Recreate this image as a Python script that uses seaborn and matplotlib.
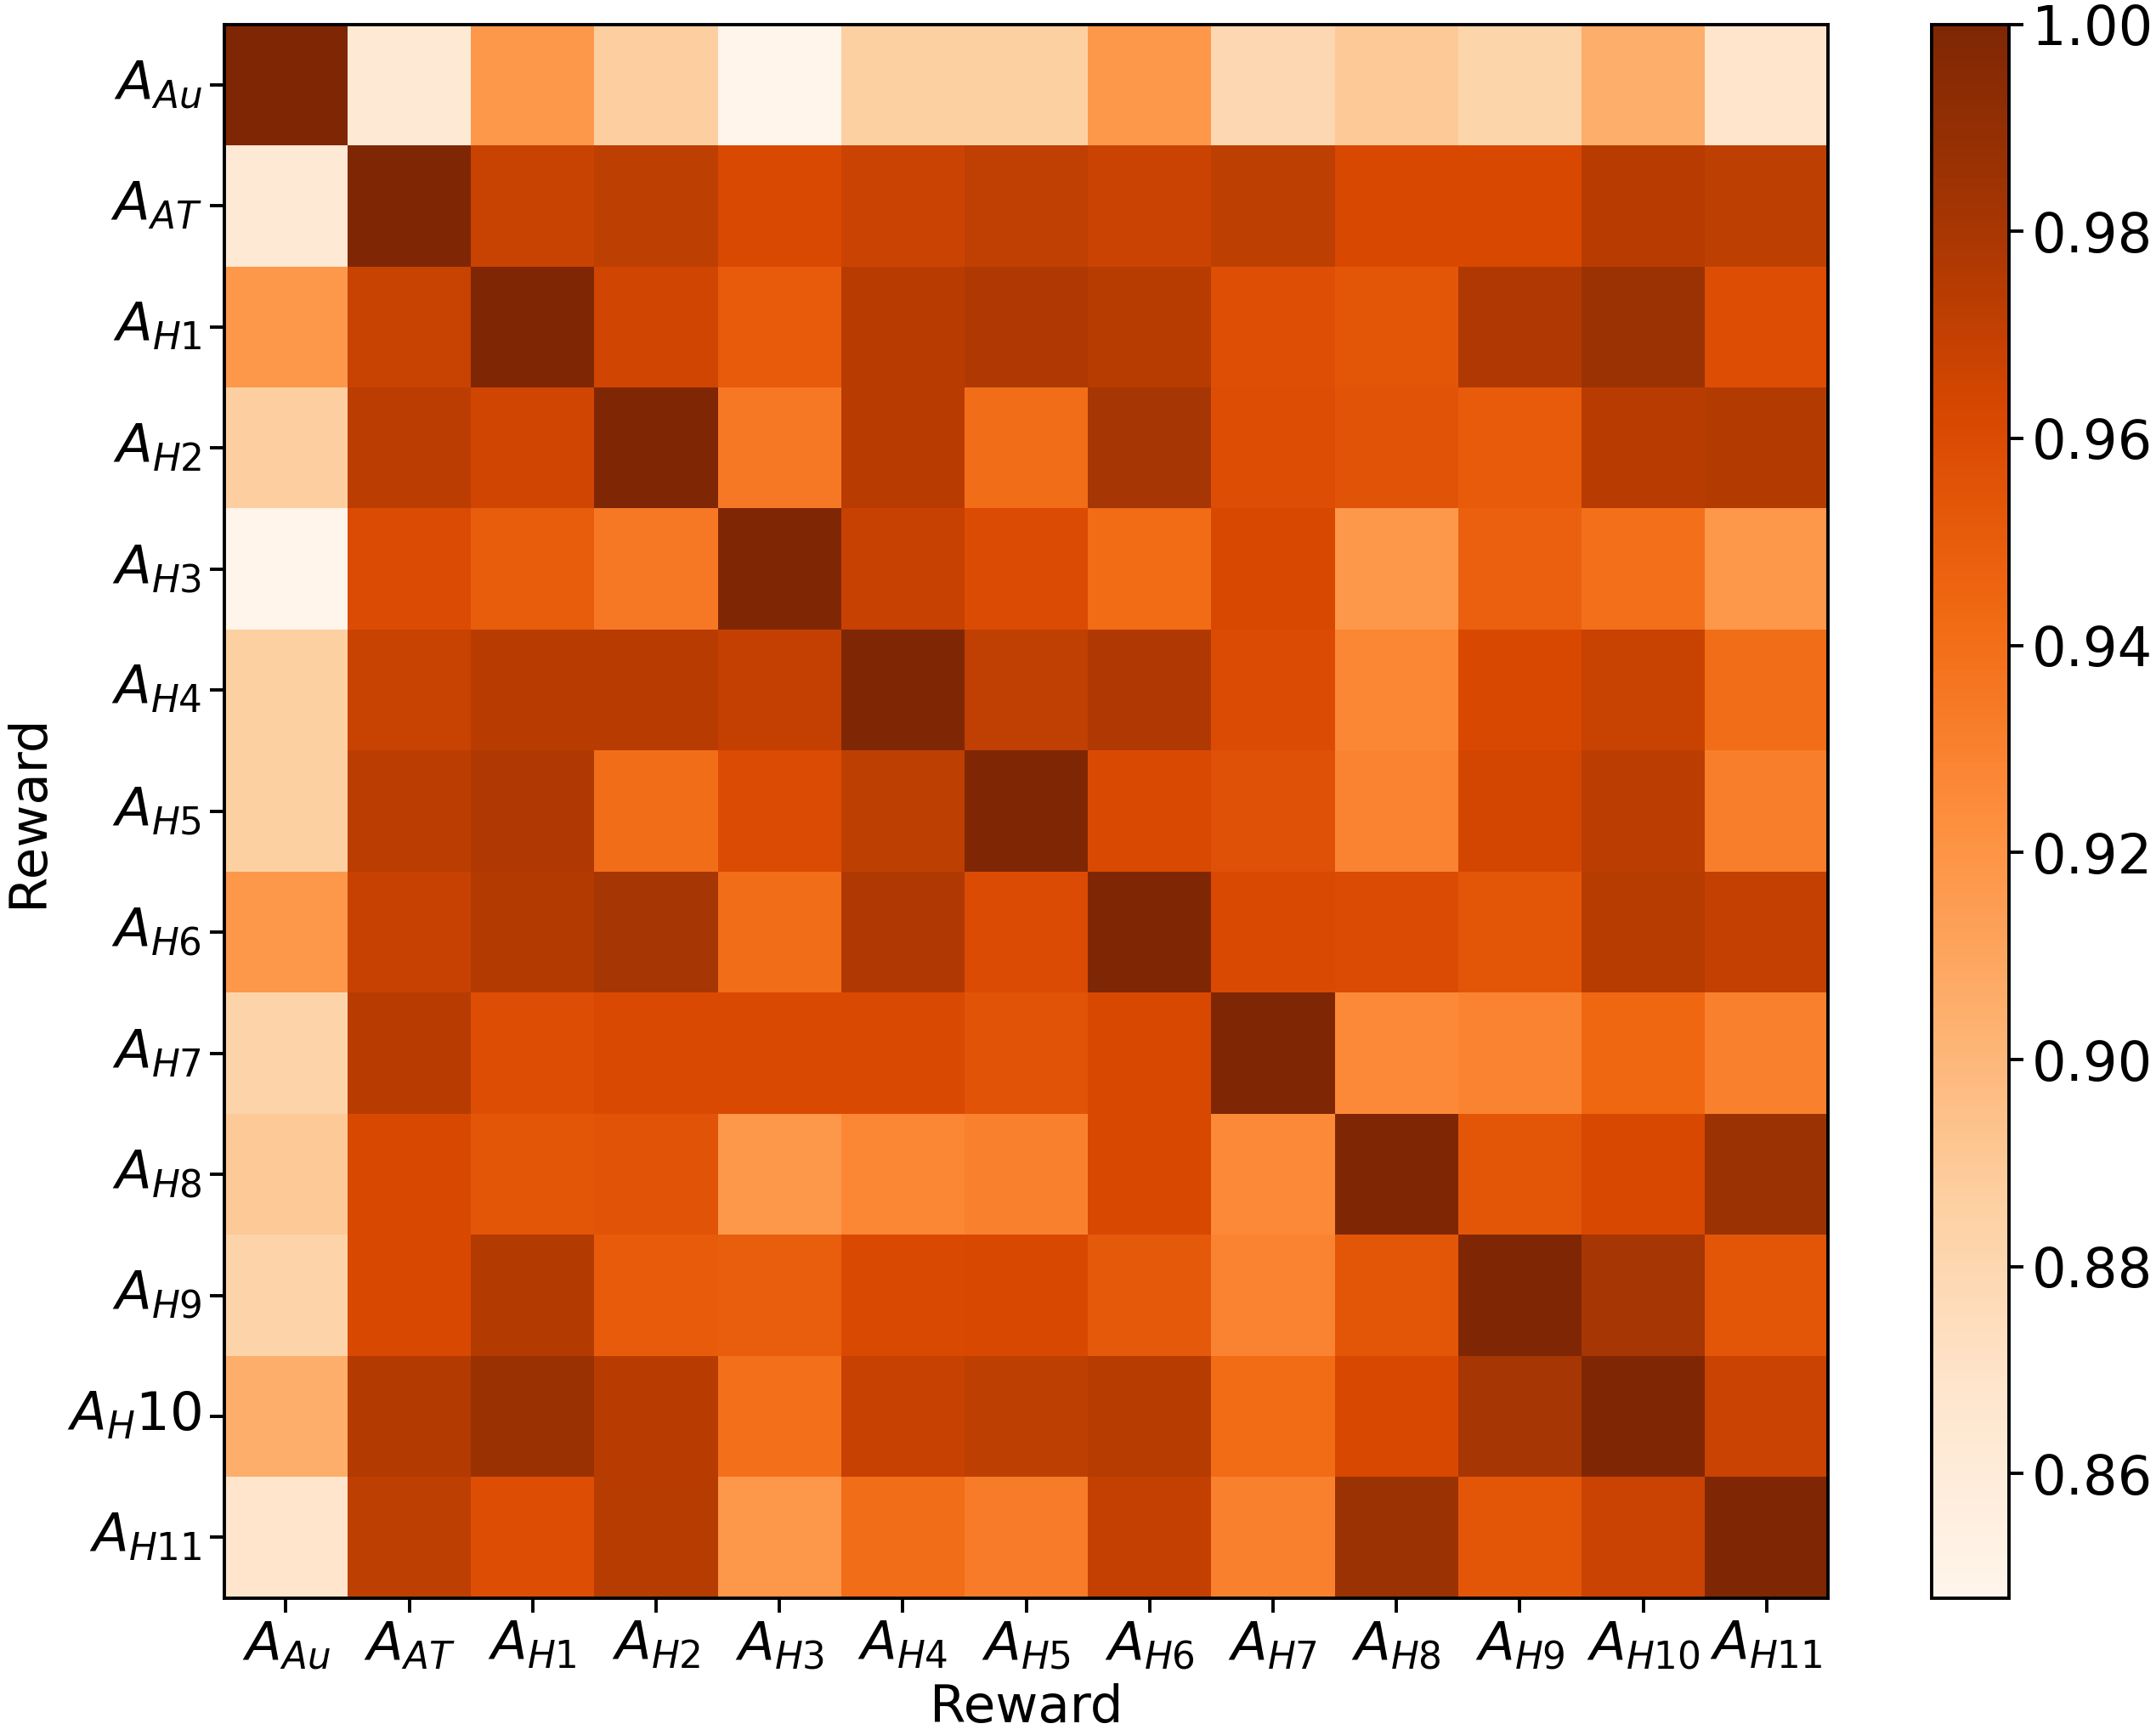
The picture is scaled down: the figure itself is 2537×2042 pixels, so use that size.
import numpy as np
import pandas as pd
import matplotlib
matplotlib.use('Agg')
import matplotlib.pyplot as plt
import seaborn as sns

# 라벨
x_labels = ['$A_{Au}$', '$A_{AT}$', '$A_{H1}$', '$A_{H2}$', '$A_{H3}$', '$A_{H4}$', '$A_{H5}$',
            '$A_{H6}$', '$A_{H7}$', '$A_{H8}$', '$A_{H9}$', '$A_{H10}$', '$A_{H11}$']
y_labels = ['$A_{Au}$', '$A_{AT}$', '$A_{H1}$', '$A_{H2}$', '$A_{H3}$', '$A_{H4}$', '$A_{H5}$',
            '$A_{H6}$', '$A_{H7}$', '$A_{H8}$', '$A_{H9}$', '$A_H10$', '$A_{H11}$']

# 행별 유사도 값
row_Au  = [1.000, 0.863, 0.918, 0.887, 0.848, 0.886, 0.886, 0.918, 0.880, 0.890, 0.882, 0.905, 0.868]
row_AT  = [0.863, 1.000, 0.968, 0.972, 0.961, 0.967, 0.971, 0.967, 0.972, 0.962, 0.962, 0.974, 0.972]
row_H1  = [0.918, 0.968, 1.000, 0.965, 0.951, 0.974, 0.977, 0.975, 0.958, 0.954, 0.977, 0.986, 0.959]
row_H2  = [0.887, 0.973, 0.965, 1.000, 0.935, 0.974, 0.941, 0.981, 0.959, 0.956, 0.951, 0.974, 0.976]
row_H3  = [0.848, 0.960, 0.950, 0.935, 1.000, 0.969, 0.960, 0.942, 0.962, 0.918, 0.948, 0.940, 0.918]
row_H4  = [0.886, 0.968, 0.974, 0.974, 0.970, 1.000, 0.971, 0.977, 0.960, 0.928, 0.962, 0.968, 0.941]
row_H5  = [0.886, 0.973, 0.977, 0.941, 0.960, 0.972, 1.000, 0.961, 0.957, 0.929, 0.964, 0.973, 0.932]
row_H6  = [0.918, 0.969, 0.976, 0.981, 0.941, 0.977, 0.960, 1.000, 0.961, 0.960, 0.954, 0.975, 0.970]
row_H7  = [0.883, 0.974, 0.959, 0.961, 0.961, 0.961, 0.956, 0.962, 1.000, 0.926, 0.929, 0.944, 0.930]
row_H8  = [0.890, 0.962, 0.954, 0.956, 0.918, 0.928, 0.930, 0.962, 0.926, 1.000, 0.954, 0.962, 0.986]
row_H9  = [0.883, 0.962, 0.976, 0.951, 0.949, 0.961, 0.962, 0.952, 0.929, 0.954, 1.000, 0.981, 0.954]
row_H10 = [0.905, 0.976, 0.987, 0.974, 0.940, 0.969, 0.972, 0.975, 0.942, 0.962, 0.981, 1.000, 0.967]
row_H11 = [0.868, 0.972, 0.959, 0.975, 0.918, 0.941, 0.933, 0.970, 0.930, 0.986, 0.954, 0.967, 1.000]

sim = pd.DataFrame([row_Au, row_AT, row_H1, row_H2, row_H3, row_H4, row_H5,
                    row_H6, row_H7, row_H8, row_H9, row_H10, row_H11],
                   index=y_labels, columns=x_labels)

plt.rcParams['font.family'] = ['DejaVu Sans']

fig = plt.figure(figsize=(12.685, 10.21), dpi=200)
ax = fig.add_axes([0.104, 0.079, 0.744, 0.907])
cax = fig.add_axes([0.896, 0.079, 0.036, 0.907])

sns.heatmap(sim, cmap='Oranges', vmin=0.848, vmax=1.0, ax=ax, cbar_ax=cax,
            square=False, linewidths=0)

for sp in ax.spines.values():
    sp.set_visible(True)
    sp.set_linewidth(1.4)
    sp.set_color('black')

ax.tick_params(axis='both', labelsize=22.5, length=6, width=1.4)
ax.set_xticklabels(x_labels, rotation=0)
ax.set_yticklabels(y_labels, rotation=0)
ax.set_xlabel('Reward', fontsize=22, labelpad=5)
ax.set_ylabel('Reward', fontsize=22, labelpad=6)

cbar = ax.collections[0].colorbar
cbar.set_ticks([0.86, 0.88, 0.90, 0.92, 0.94, 0.96, 0.98, 1.00])
cbar.set_ticklabels(['0.86', '0.88', '0.90', '0.92', '0.94', '0.96', '0.98', '1.00'])
cbar.ax.tick_params(labelsize=23, length=6, width=1.4)
cbar.outline.set_visible(True)
cbar.outline.set_linewidth(1.4)
cbar.outline.set_edgecolor('black')

fig.savefig('out.png', dpi=200)
